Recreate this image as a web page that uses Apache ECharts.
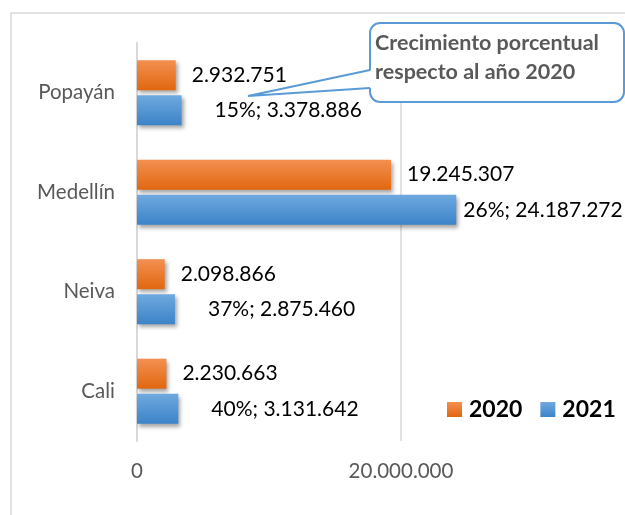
<!DOCTYPE html>
<html>
<head>
<meta charset="utf-8">
<script src="https://cdn.jsdelivr.net/npm/echarts@6/dist/echarts.min.js"></script>
<style>
  html, body { margin: 0; padding: 0; background: #fff; }
  #chart { width: 625px; height: 515px; }
</style>
</head>
<body>
<div id="chart"></div>
<script>
  // datos (de abajo hacia arriba en el eje)
  const categories = ['Cali', 'Neiva', 'Medellín', 'Popayán'];
  const values2020 = [2230663, 2098866, 19245307, 2932751];
  const values2021 = [3131642, 2875460, 24187272, 3378886];
  const growthPct = [40, 37, 26, 15];
  const axisMax = 40000000;
  const axisStep = 20000000;

  function fmt(n) {
    return String(n).replace(/\B(?=(\d{3})+(?!\d))/g, '.');
  }

  const chart = echarts.init(document.getElementById('chart'));

  const orange = new echarts.graphic.LinearGradient(0, 0, 0, 1, [
    { offset: 0, color: '#f39052' },
    { offset: 1, color: '#e1670f' }
  ]);
  const blue = new echarts.graphic.LinearGradient(0, 0, 0, 1, [
    { offset: 0, color: '#6fa9df' },
    { offset: 1, color: '#3c83c8' }
  ]);
  const shadow = {
    shadowColor: 'rgba(0,0,0,0.35)',
    shadowBlur: 4,
    shadowOffsetX: 2,
    shadowOffsetY: 3
  };

  const option = {
    animation: false,
    textStyle: { fontFamily: 'Lato' },
    // el eje sigue hasta 40M, fuera del recorte de la imagen
    grid: { left: 137, top: 43, width: 528, height: 398, outerBoundsMode: 'none', containLabel: false },
    legend: {
      data: ['2020', '2021'],
      left: 447,
      top: 398,
      padding: 0,
      icon: 'rect',
      itemWidth: 15,
      itemHeight: 15,
      itemGap: 18,
      textStyle: { fontSize: 23, fontWeight: 'bold', color: '#000', fontFamily: 'Lato', padding: [0, 0, 0, 2] }
    },
    xAxis: {
      type: 'value',
      min: 0,
      max: axisMax,
      interval: axisStep,
      axisLine: { show: false },
      axisTick: { show: false },
      splitLine: { lineStyle: { color: '#d9d9d9', width: 1.5 } },
      axisLabel: {
        color: '#595959', fontSize: 20.5, margin: 20, showMaxLabel: false,
        formatter: v => v >= axisMax ? '' : fmt(v)
      }
    },
    yAxis: {
      type: 'category',
      data: categories,
      axisLine: { lineStyle: { color: '#d9d9d9', width: 2 } },
      axisTick: { show: false },
      axisLabel: { color: '#595959', fontSize: 20.5, margin: 22 }
    },
    series: [
      {
        name: '2020',
        type: 'bar',
        barWidth: 30,
        barGap: '17%',
        itemStyle: Object.assign({ color: orange }, shadow),
        label: {
          show: true,
          position: 'right',
          distance: 16,
          color: '#000',
          fontSize: 21,
          formatter: p => fmt(p.value)
        },
        data: values2020
      },
      {
        name: '2021',
        type: 'bar',
        barWidth: 30,
        barGap: '17%',
        itemStyle: Object.assign({ color: blue }, shadow),
        label: {
          show: true,
          position: 'right',
          distance: 33,
          color: '#000',
          fontSize: 21,
          formatter: p => growthPct[p.dataIndex] + '%; ' + fmt(p.value)
        },
        data: values2021.map((v, i) => categories[i] === 'Medellín' ? { value: v, label: { distance: 7 } } : v)
      }
    ],
    graphic: [
      {
        type: 'rect',
        z: -1,
        shape: { x: 11, y: 13, width: 700, height: 600 },
        style: { fill: 'none', stroke: '#d9d9d9', lineWidth: 1.5 }
      },
      // llamada "Crecimiento porcentual"
      {
        type: 'rect',
        z: 10,
        shape: { x: 370, y: 23, width: 254, height: 79, r: 10 },
        style: { fill: '#fff', stroke: '#5b9bd5', lineWidth: 2 }
      },
      {
        type: 'polygon',
        z: 11,
        shape: { points: [[372, 70], [248, 96], [372, 88]] },
        style: { fill: '#fff' }
      },
      {
        type: 'polyline',
        z: 12,
        shape: { points: [[370, 70], [248, 96], [370, 88]] },
        style: { stroke: '#5b9bd5', lineWidth: 2, fill: null }
      },
      {
        type: 'text',
        z: 13,
        x: 375,
        y: 29,
        style: {
          text: 'Crecimiento porcentual\nrespecto al año 2020',
          fontFamily: 'Lato',
          fontSize: 21.5,
          fontWeight: 'bold',
          lineHeight: 29,
          fill: '#595959'
        }
      }
    ]
  };

  chart.setOption(option);
</script>
</body>
</html>
